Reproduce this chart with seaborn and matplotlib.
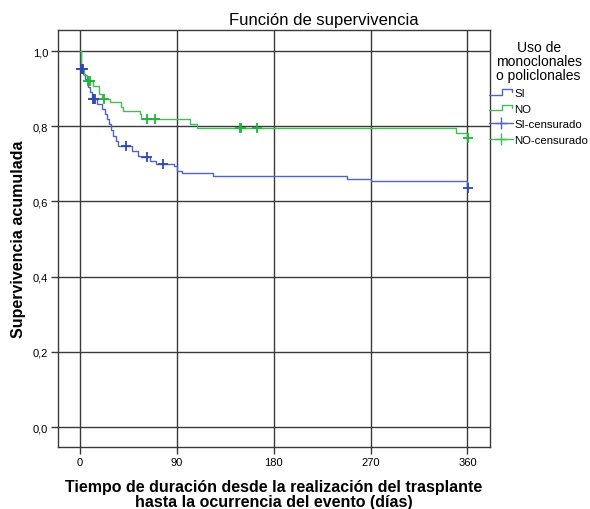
import matplotlib
matplotlib.use("Agg")
import matplotlib.pyplot as plt
from matplotlib.lines import Line2D
from matplotlib.legend_handler import HandlerBase
import pandas as pd
import seaborn as sns

# curva SI (dias, supervivencia)
si_t = [0, 0.5, 1, 3, 5, 7, 9, 11, 16, 20, 23, 25, 27, 29, 31, 33, 35, 48, 54, 57, 65, 71, 87, 90, 95, 124, 248, 270, 360, 361]
si_s = [1.0, 0.965, 0.952, 0.94, 0.925, 0.905, 0.89, 0.872, 0.859, 0.845, 0.832, 0.82, 0.805, 0.79, 0.775, 0.76, 0.748,
        0.735, 0.722, 0.717, 0.708, 0.70, 0.695, 0.682, 0.675, 0.668, 0.661, 0.655, 0.635, 0.635]
si_cens_t = [0.5, 1.5, 2.5, 12, 13, 14, 43, 62, 77, 361]
si_cens_s = [0.952, 0.952, 0.952, 0.872, 0.872, 0.872, 0.748, 0.717, 0.70, 0.635]

# curva NO
no_t = [0, 1, 4, 6, 12, 18, 20, 28, 38, 40, 56, 57, 102, 109, 349, 360, 361]
no_s = [1.0, 0.95, 0.935, 0.921, 0.908, 0.886, 0.872, 0.864, 0.85, 0.841, 0.832, 0.819, 0.806, 0.795, 0.781, 0.769, 0.769]
no_cens_t = [7, 9, 22, 62, 70, 149, 150, 164, 361]
no_cens_s = [0.921, 0.921, 0.872, 0.819, 0.819, 0.795, 0.795, 0.795, 0.769]

x_ticks = [0, 90, 180, 270, 360]
y_ticks = [0.0, 0.2, 0.4, 0.6, 0.8, 1.0]
y_labels = ["0,0", "0,2", "0,4", "0,6", "0,8", "1,0"]

blue = "#5066c0"
green = "#45bd55"
blue_c = "#2f4aae"
green_c = "#22b33c"

sns.set_style("white")
plt.rcParams["font.family"] = ["Liberation Sans", "DejaVu Sans"]
plt.rcParams["text.color"] = "black"
plt.rcParams["axes.labelcolor"] = "black"
plt.rcParams["xtick.color"] = "black"
plt.rcParams["ytick.color"] = "black"

fig = plt.figure(figsize=(5.9, 5.1), dpi=100)
ax = fig.add_axes([58 / 590, 62 / 510, 432 / 590, 417 / 510])

si = pd.DataFrame({"t": si_t, "s": si_s})
no = pd.DataFrame({"t": no_t, "s": no_s})
sns.lineplot(data=si, x="t", y="s", ax=ax, color=blue, lw=1, drawstyle="steps-post",
             estimator=None, sort=False, zorder=3)
sns.lineplot(data=no, x="t", y="s", ax=ax, color=green, lw=1, drawstyle="steps-post",
             estimator=None, sort=False, zorder=3)
ax.plot(si_cens_t, si_cens_s, ls="none", marker="+", ms=6.5, mew=1.3, color=blue_c, zorder=4)
ax.plot(no_cens_t, no_cens_s, ls="none", marker="+", ms=6.5, mew=1.3, color=green_c, zorder=4)

ax.set_xlim(-20.5, 381)
ax.set_ylim(-0.053, 1.056)
ax.set_xticks(x_ticks)
ax.set_xticklabels([str(v) for v in x_ticks], fontsize=8)
ax.set_yticks(y_ticks)
ax.set_yticklabels(y_labels, fontsize=8)
ax.grid(True, color="#3a3a3a", lw=1)
ax.set_axisbelow(True)
for sp in ax.spines.values():
    sp.set_color("#3a3a3a")
    sp.set_linewidth(1)
ax.tick_params(axis="both", direction="out", length=5, width=1, color="#3a3a3a", pad=2,
               labelcolor="black")
ax.tick_params(axis="x", bottom=True)
ax.tick_params(axis="y", left=True)

ax.set_xlabel("Tiempo de duración desde la realización del trasplante\nhasta la ocurrencia del evento (días)",
              fontsize=11.5, fontweight="bold", labelpad=9, linespacing=0.95)
ax.set_ylabel("Supervivencia acumulada", fontsize=11.5, fontweight="bold", labelpad=5)
# SPSS centra el titulo sobre grafico + leyenda
fig.text(324 / 590, (510 - 25) / 510, "Función de supervivencia", fontsize=12, ha="center", va="baseline")


class HandlerStep(HandlerBase):
    def create_artists(self, legend, orig_handle, xdescent, ydescent, width, height, fontsize, trans):
        x0, y0 = -xdescent, -ydescent
        xs = [x0, x0 + width * 0.55, x0 + width * 0.55, x0 + width * 0.95, x0 + width * 0.95]
        ys = [y0 + height * 0.15, y0 + height * 0.15, y0 + height * 0.8, y0 + height * 0.8, y0 + height * 0.5]
        ln = Line2D(xs, ys, color=orig_handle.get_color(), lw=1, transform=trans)
        return [ln]


h_si = Line2D([], [], color=blue, lw=1)
h_no = Line2D([], [], color=green, lw=1)
h_sic = Line2D([], [], color=blue, lw=1, marker="+", ms=9, mew=1)
h_noc = Line2D([], [], color=green, lw=1, marker="+", ms=9, mew=1)
leg = fig.legend([h_si, h_no, h_sic, h_noc], ["SI", "NO", "SI-censurado", "NO-censurado"],
                 handler_map={h_si: HandlerStep(), h_no: HandlerStep()},
                 loc="upper left", bbox_to_anchor=(488 / 590, 470 / 510), frameon=False,
                 title="Uso de\nmonoclonales\no policlonales", title_fontsize=10, fontsize=8.2,
                 handlelength=2.1, handletextpad=0.1, labelspacing=0.5, borderaxespad=0, borderpad=0.1)
leg.get_title().set_multialignment("center")
leg.get_title().set_linespacing(1.0)
leg._legend_box.align = "center"

fig.savefig("out.png", dpi=100)
